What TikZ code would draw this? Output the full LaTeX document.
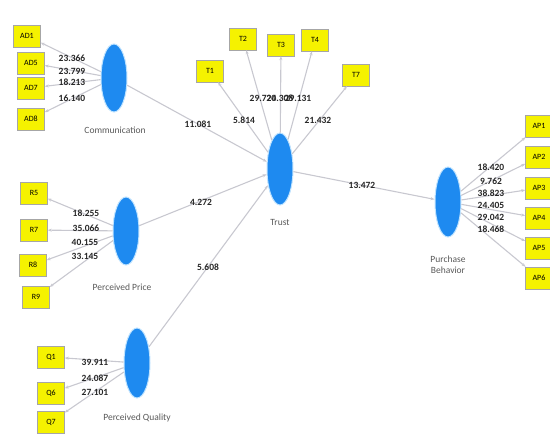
\documentclass[tikz,border=0pt]{standalone}
\usepackage{fontspec}
\setmainfont{Carlito}
\usetikzlibrary{arrows.meta, shapes.geometric}
\definecolor{PLSBlue}{HTML}{1E8AF0}
\definecolor{PLSYellow}{HTML}{F5F200}
\definecolor{PLSLine}{HTML}{C8C8D0}
\definecolor{PLSHalo}{HTML}{BFE3FF}

\begin{document}
\begin{tikzpicture}[>={Stealth[length=4pt, width=3pt]}, x=1pt, y=-1pt,
  lv/.style={ellipse, draw=PLSHalo, line width=1pt, fill=PLSBlue,
             minimum width=26pt, minimum height=68pt, inner sep=0pt},
  ind/.style={draw=black!35, fill=PLSYellow, minimum width=27pt,
              minimum height=22pt, inner sep=0pt,
              font=\fontsize{8}{9}\selectfont},
  link/.style={->, draw=PLSLine, line width=1.1pt},
  coef/.style={font=\fontsize{9.5}{10}\selectfont\bfseries,
               text=black!85, inner sep=0pt},
  lvname/.style={font=\fontsize{9.5}{11}\selectfont, text=black!65,
                 align=center}]
  \useasboundingbox (0,0) rectangle (550,434);

  % latent variables
  \node[lv] (com) at (114, 78) {};
  \node[lv, minimum height=72pt] (tru) at (280, 169) {};
  \node[lv] (pri) at (126, 231) {};
  \node[lv, minimum height=70pt] (qua) at (137, 363) {};
  \node[lv, minimum height=70pt] (pur) at (448, 202) {};
  \node[lvname] (comlab) at (115, 130) {Communication};
  \node[lvname] (trulab) at (280, 222) {Trust};
  \node[lvname] (prilab) at (122, 287) {Perceived Price};
  \node[lvname] (qualab) at (137, 418) {Perceived Quality};
  \node[lvname] (purlab) at (448, 265) {Purchase\\Behavior};

  % indicators
  \node[ind] (ad1) at (27, 36) {AD1};
  \node[ind] (ad5) at (31, 63) {AD5};
  \node[ind] (ad7) at (31, 88) {AD7};
  \node[ind] (ad8) at (31, 119) {AD8};
  \node[ind] (t1) at (210, 71) {T1};
  \node[ind] (t2) at (243, 39) {T2};
  \node[ind] (t3) at (281, 45) {T3};
  \node[ind] (t4) at (315, 40) {T4};
  \node[ind] (t7) at (356, 75) {T7};
  \node[ind] (r5) at (34, 193) {R5};
  \node[ind] (r7) at (34, 230) {R7};
  \node[ind] (r8) at (33, 265) {R8};
  \node[ind] (r9) at (36, 297) {R9};
  \node[ind] (q1) at (51, 357) {Q1};
  \node[ind] (q6) at (51, 393) {Q6};
  \node[ind] (q7) at (51, 422) {Q7};
  \node[ind] (ap1) at (539, 126) {AP1};
  \node[ind] (ap2) at (539, 157) {AP2};
  \node[ind] (ap3) at (539, 188) {AP3};
  \node[ind] (ap4) at (539, 218) {AP4};
  \node[ind] (ap5) at (539, 248) {AP5};
  \node[ind] (ap6) at (539, 278) {AP6};

  % outer model
  \draw[link] (com) -- (ad1);
  \draw[link] (com) -- (ad5);
  \draw[link] (com) -- (ad7);
  \draw[link] (com) -- (ad8);
  \draw[link] (tru) -- (t1);
  \draw[link] (tru) -- (t2);
  \draw[link] (tru) -- (t3);
  \draw[link] (tru) -- (t4);
  \draw[link] (tru) -- (t7);
  \draw[link] (pri) -- (r5);
  \draw[link] (pri) -- (r7);
  \draw[link] (pri) -- (r8);
  \draw[link] (pri) -- (r9);
  \draw[link] (qua) -- (q1);
  \draw[link] (qua) -- (q6);
  \draw[link] (qua) -- (q7);
  \draw[link] (pur) -- (ap1);
  \draw[link] (pur) -- (ap2);
  \draw[link] (pur) -- (ap3);
  \draw[link] (pur) -- (ap4);
  \draw[link] (pur) -- (ap5);
  \draw[link] (pur) -- (ap6);

  % inner model
  \draw[link] (com) -- (tru);
  \draw[link] (pri) -- (tru);
  \draw[link] (qua) -- (tru);
  \draw[link] (tru) -- (pur);

  % t values
  \node[coef] (vad1) at (72, 58) {23.366};
  \node[coef] (vad5) at (72, 71) {23.799};
  \node[coef] (vad7) at (72, 82) {18.213};
  \node[coef] (vad8) at (72, 98) {16.140};
  \node[coef] (vt2) at (263, 98) {29.720};
  \node[coef] (vt3) at (280, 98) {24.308};
  \node[coef] (vt4) at (298, 98) {29.131};
  \node[coef] (vt1) at (244, 120) {5.814};
  \node[coef] (vt7) at (318, 120) {21.432};
  \node[coef] (vcom) at (198, 124) {11.081};
  \node[coef] (vr5) at (86, 213) {18.255};
  \node[coef] (vr7) at (86, 228) {35.066};
  \node[coef] (vr8) at (85, 242) {40.155};
  \node[coef] (vr9) at (85, 256) {33.145};
  \node[coef] (vpri) at (201, 202) {4.272};
  \node[coef] (vqua) at (208, 267) {5.608};
  \node[coef] (vtru) at (362, 185) {13.472};
  \node[coef] (vq1) at (95, 362) {39.911};
  \node[coef] (vq6) at (95, 378) {24.087};
  \node[coef] (vq7) at (95, 392) {27.101};
  \node[coef] (vap1) at (491, 167) {18.420};
  \node[coef] (vap2) at (491, 181) {9.762};
  \node[coef] (vap3) at (491, 193) {38.823};
  \node[coef] (vap4) at (491, 205) {24.405};
  \node[coef] (vap5) at (491, 217) {29.042};
  \node[coef] (vap6) at (491, 229) {18.468};
\end{tikzpicture}
\end{document}
